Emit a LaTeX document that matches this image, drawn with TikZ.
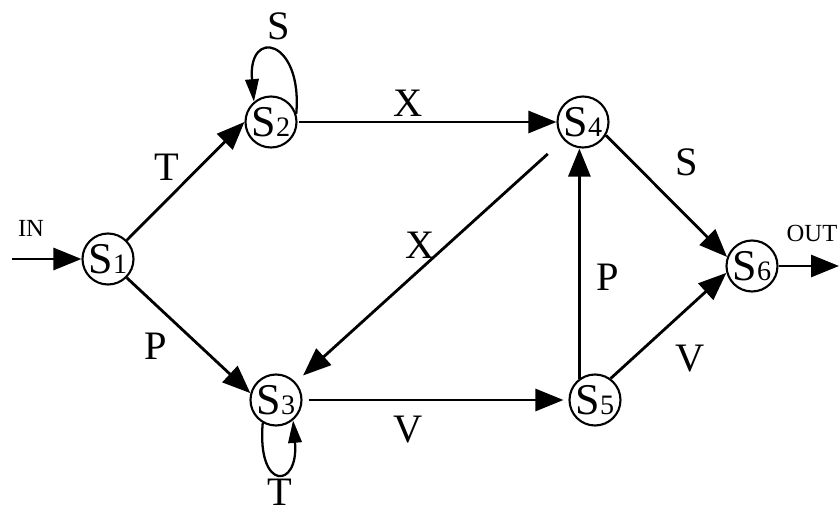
\documentclass[tikz,border=0pt]{standalone}
\usepackage{fontspec}
\setmainfont{Liberation Serif}
\usetikzlibrary{arrows.meta, calc}

\newcommand{\sname}[1]{S{\fontsize{16}{16}\selectfont #1}}

\begin{document}
\begin{tikzpicture}[
        state/.style={circle, draw=black, line width=1.2pt, minimum size=1.02cm, inner sep=0pt, font=\fontsize{25}{25}\selectfont},
        line/.style={line width=1.6pt, draw=black},
        arr/.style={line, -{Triangle[length=0.56cm, width=0.44cm]}},
        looparr/.style={line, line width=1.3pt, -{Triangle[length=0.45cm, width=0.27cm]}},
        lbl/.style={font=\fontsize{23}{23}\selectfont, inner sep=0pt},
        io/.style={font=\fontsize{14}{14}\selectfont, inner sep=0pt}
    ]
        \useasboundingbox (0,0) rectangle (16.8,10.3);

        % ----------------------------------------------------
        % STATES
        % ----------------------------------------------------
        \node[state] (S1) at (2.16, 5.12) {\sname{1}};
        \node[state] (S2) at (5.42, 7.86) {\sname{2}};
        \node[state] (S3) at (5.52, 2.30) {\sname{3}};
        \node[state] (S4) at (11.66, 7.86) {\sname{4}};
        \node[state] (S5) at (11.90, 2.30) {\sname{5}};
        \node[state] (S6) at (15.04, 4.98) {\sname{6}};

        \coordinate (in) at (0.24, 5.12);
        \coordinate (out) at (16.78, 4.98);

        % ----------------------------------------------------
        % TRANSITIONS
        % ----------------------------------------------------
        \draw[arr] (in) -- (S1);
        \draw[arr] (S1.45) -- (S2.west);
        \draw[arr] (S1.-45) -- (S3.165);
        \draw[arr, shorten <=1pt] (S2.east) -- (S4.west);
        \draw[arr, shorten <=0.42cm, shorten >=0.2cm] (S4) -- (S3);
        \draw[arr, shorten <=0.12cm, shorten >=0.1cm] (S3.east) -- (S5.west);
        \draw[arr] (S5.126) -- (S5.126 |- S4.south);
        \draw[arr] (S4.-30) -- (S6.160);
        \draw[arr] (S5.54) -- (S6.195);
        \draw[arr] (S6) -- (out);

        % Self loops
        \draw[looparr] (S2.18) .. controls +(85:1.5) and +(95:1.5) .. (S2.130);
        \draw[looparr] (S3.-120) .. controls +(-95:1.38) and +(-85:1.38) .. (S3.-50);

        % ----------------------------------------------------
        % LABELS
        % ----------------------------------------------------
        \node[io] (lin) at (0.62, 5.74) {IN};
        \node[io] (lout) at (16.24, 5.64) {OUT};
        \node[lbl] (l12) at (3.34, 6.96) {T};
        \node[lbl] (l22) at (5.58, 9.78) {S};
        \node[lbl] (l24) at (8.16, 8.24) {X};
        \node[lbl] (l43) at (8.40, 5.40) {X};
        \node[lbl] (l13) at (3.12, 3.38) {P};
        \node[lbl] (l33) at (5.60, 0.46) {T};
        \node[lbl] (l35) at (8.16, 1.70) {V};
        \node[lbl] (l46) at (13.74, 7.06) {S};
        \node[lbl] (l54) at (12.16, 4.76) {P};
        \node[lbl] (l56) at (13.80, 3.12) {V};

    \end{tikzpicture}
\end{document}
